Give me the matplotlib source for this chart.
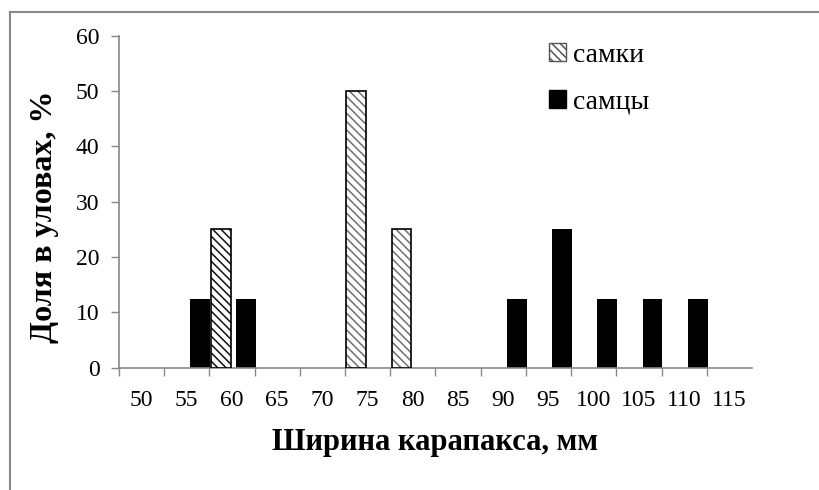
import numpy as np
import matplotlib
matplotlib.use('Agg')
import matplotlib.pyplot as plt
from matplotlib.patches import Patch
from matplotlib.lines import Line2D

# size classes of carapace width, mm
categories = ['50', '55', '60', '65', '70', '75', '80', '85', '90', '95',
              '100', '105', '110', '115']
females = [0, 0, 25, 0, 0, 50, 25, 0, 0, 0, 0, 0, 0, 0]
males = [0, 12.5, 12.5, 0, 0, 0, 0, 0, 12.5, 25, 12.5, 12.5, 12.5, 0]
yticks = [0, 10, 20, 30, 40, 50, 60]


def main():
    plt.rcParams['font.family'] = ['Liberation Serif', 'DejaVu Serif']
    plt.rcParams['hatch.linewidth'] = 1.1

    fig = plt.figure(figsize=(8.2, 4.9), dpi=100)
    ax = fig.add_axes([0.1451, 0.2496, 0.917 - 0.1451, 0.927 - 0.2496])

    idx = np.arange(len(categories))
    w = 0.44
    fem_x = idx + 0.25
    mal_x = idx + 0.80

    # hatch colour: first female bar darker than the others
    hcolors = []
    seen = False
    for v in females:
        if v > 0 and not seen:
            hcolors.append('#111111')
            seen = True
        else:
            hcolors.append('#707070')

    ax.bar(mal_x, males, width=w, color='black', linewidth=0, zorder=2)
    ax.bar(fem_x, females, width=w, color='white', edgecolor=hcolors,
           hatch='\\\\\\\\', linewidth=0, zorder=3)
    fem_edge = [v > 0 for v in females]
    ax.bar(fem_x[fem_edge], np.array(females)[fem_edge], width=w, fill=False,
           edgecolor='black', linewidth=1.2, zorder=4)

    ax.set_xlim(0, len(categories))
    ax.set_ylim(0, 60)
    ax.set_xticks(idx)
    ax.set_xticklabels([])
    ax.set_xticks(idx + 0.5, minor=True)
    ax.set_xticklabels(categories, minor=True)
    ax.tick_params(axis='x', which='major', direction='out', length=6,
                   color='#888888', width=1)
    ax.tick_params(axis='x', which='minor', length=0, labelsize=17, pad=16)
    ax.set_yticks(yticks)
    ax.tick_params(axis='y', direction='out', length=6, color='#888888',
                   width=1, labelsize=17, pad=8)

    for s in ['top', 'right']:
        ax.spines[s].set_visible(False)
    for s in ['left', 'bottom']:
        ax.spines[s].set_color('#888888')
        ax.spines[s].set_linewidth(1.2)

    ax.set_xlabel('Ширина карапакса, мм', fontsize=22, fontweight='bold',
                  labelpad=12)
    ax.set_ylabel('Доля в уловах, %', fontsize=23, fontweight='bold')
    ax.yaxis.set_label_coords(-0.094, 0.455)

    handles = [Patch(facecolor='white', edgecolor='#555555', hatch='\\\\\\\\',
                     linewidth=1.0, label='самки'),
               Patch(facecolor='black', edgecolor='black', label='самцы')]
    ax.legend(handles=handles, loc='upper left', bbox_to_anchor=(0.64, 1.055),
              frameon=False, fontsize=20, handlelength=0.6, handleheight=0.6,
              handletextpad=0.25, labelspacing=0.8)

    # frame lines of the original figure
    fig.add_artist(Line2D([10 / 820, 10 / 820], [0, 1 - 12 / 490],
                          color='#888888', lw=1.5))
    fig.add_artist(Line2D([10 / 820, 1], [1 - 12 / 490, 1 - 12 / 490],
                          color='#888888', lw=1.5))

    fig.savefig('out.png', dpi=100)


if __name__ == '__main__':
    main()
